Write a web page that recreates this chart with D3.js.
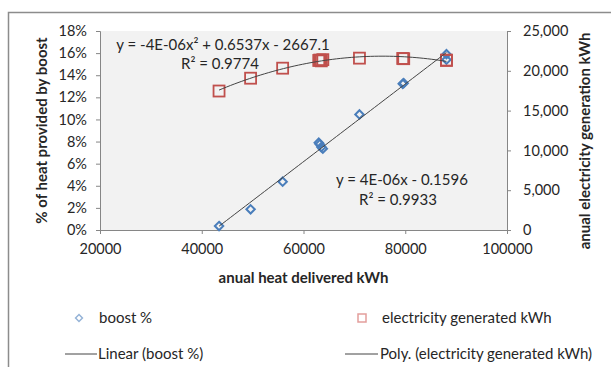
<!DOCTYPE html>
<html lang="en">
<head>
<meta charset="utf-8">
<title>Boost share and electricity generation vs annual heat delivered</title>
<script src="https://cdn.jsdelivr.net/npm/d3@7"></script>
<style>
  body { margin: 0; background: #fff; font-family: Lato, "Open Sans", sans-serif; }
  svg text { fill: #262626; }
  .axis path, .axis line { stroke: #868686; }
  .axis text { font-size: 14.5px; fill: #262626; font-family: Lato, sans-serif; }
  .title { font-size: 15px; font-weight: bold; }
  .eq { font-size: 15px; }
  .leg { font-size: 15px; }
</style>
</head>
<body>
<svg id="chart" width="611" height="367"></svg>
<script>
// values
const heatDelivered = [43400, 49600, 55900, 63000, 63200, 63500, 63800, 71000, 79500, 79700, 88100, 88100];
const boostShare    = [0.0036, 0.0187, 0.0437, 0.079, 0.0775, 0.075, 0.0735, 0.1045, 0.1322, 0.1328, 0.159, 0.154];
const elecGenerated = [17460, 19070, 20330, 21300, 21350, 21250, 21400, 21590, 21550, 21520, 21350, 21300];

const xTicks     = [20000, 40000, 60000, 80000, 100000];
const boostTicks = [0, 0.02, 0.04, 0.06, 0.08, 0.10, 0.12, 0.14, 0.16, 0.18];
const elecTicks  = [0, 5000, 10000, 15000, 20000, 25000];

const linEq  = ["y = 4E-06x - 0.1596", "R² = 0.9933"];
const polyEq = ["y = -4E-06x² + 0.6537x - 2667.1", "R² = 0.9774"];

const svg = d3.select("#chart");
const pLeft = 100, pRight = 507, pTop = 31, pBottom = 230;

const x  = d3.scaleLinear().domain([20000, 100000]).range([pLeft, pRight]);
const yL = d3.scaleLinear().domain([0, 0.18]).range([pBottom, pTop]);
const yR = d3.scaleLinear().domain([0, 25000]).range([pBottom, pTop]);

// outer chart frame (only top and left edges visible)
svg.append("path")
  .attr("d", `M8.5,367 V12.5 H611`)
  .attr("fill", "none").attr("stroke", "#8c8c8c").attr("stroke-width", 1.5);

// plot area
svg.append("rect")
  .attr("x", pLeft).attr("y", pTop)
  .attr("width", pRight - pLeft).attr("height", pBottom - pTop)
  .attr("fill", "#f2f2f2");

// axes
svg.append("g").attr("class", "axis")
  .attr("transform", `translate(0,${pBottom})`)
  .call(d3.axisBottom(x).tickValues(xTicks).tickFormat(d3.format("d")).tickSizeOuter(0).tickSize(4).tickPadding(10));

svg.append("g").attr("class", "axis")
  .attr("transform", `translate(${pLeft},0)`)
  .call(d3.axisLeft(yL).tickValues(boostTicks).tickFormat(d3.format(".0%")).tickSizeOuter(0).tickSize(4).tickPadding(9));

svg.append("g").attr("class", "axis")
  .attr("transform", `translate(${pRight},0)`)
  .call(d3.axisRight(yR).tickValues(elecTicks).tickFormat(d3.format(",")).tickSizeOuter(0).tickSize(4).tickPadding(12));

// axis titles
svg.append("text").attr("class", "title")
  .attr("x", (pLeft + pRight) / 2).attr("y", 283)
  .attr("text-anchor", "middle")
  .text("anual heat delivered kWh");

svg.append("text").attr("class", "title")
  .attr("transform", `translate(47,${(pTop + pBottom) / 2}) rotate(-90)`)
  .attr("text-anchor", "middle")
  .text("% of heat provided by boost");

svg.append("text").attr("class", "title")
  .attr("transform", `translate(590,141) rotate(-90)`)
  .attr("text-anchor", "middle")
  .text("anual electricity generation kWh");

// least squares fits
function linearFit(xs, ys) {
  const mx = d3.mean(xs), my = d3.mean(ys);
  let sxy = 0, sxx = 0;
  xs.forEach((v, i) => { sxy += (v - mx) * (ys[i] - my); sxx += (v - mx) * (v - mx); });
  const b = sxy / sxx;
  return v => my + b * (v - mx);
}

function quadFit(xs, ys) {
  const m = d3.mean(xs), s = 10000;
  const t = xs.map(v => (v - m) / s);
  const S = k => d3.sum(t, v => Math.pow(v, k));
  const T = k => d3.sum(t, (v, i) => Math.pow(v, k) * ys[i]);
  const A = [[S(0), S(1), S(2)], [S(1), S(2), S(3)], [S(2), S(3), S(4)]];
  const B = [T(0), T(1), T(2)];
  // gaussian elimination
  for (let i = 0; i < 3; i++) {
    for (let j = i + 1; j < 3; j++) {
      const f = A[j][i] / A[i][i];
      for (let k = i; k < 3; k++) A[j][k] -= f * A[i][k];
      B[j] -= f * B[i];
    }
  }
  const c = [0, 0, 0];
  for (let i = 2; i >= 0; i--) {
    let r = B[i];
    for (let k = i + 1; k < 3; k++) r -= A[i][k] * c[k];
    c[i] = r / A[i][i];
  }
  return v => { const u = (v - m) / s; return c[0] + c[1] * u + c[2] * u * u; };
}

const xMin = d3.min(heatDelivered), xMax = d3.max(heatDelivered);
const samples = d3.range(0, 61).map(i => xMin + (xMax - xMin) * i / 60);

const linF = linearFit(heatDelivered, boostShare);
const quadF = quadFit(heatDelivered, elecGenerated);

const pts = heatDelivered.map((h, i) => ({ h, b: boostShare[i], e: elecGenerated[i] }));

// boost markers (diamonds)
const diamond = d3.symbol().type(d3.symbolDiamond2).size(45);
svg.append("g").selectAll("path").data(pts).join("path")
  .attr("d", diamond)
  .attr("transform", d => `translate(${x(d.h)},${yL(d.b)})`)
  .attr("fill", "none").attr("stroke", "#4a7ebb").attr("stroke-width", 2);

// electricity markers (squares)
const sq = 11;
svg.append("g").selectAll("rect").data(pts).join("rect")
  .attr("x", d => x(d.h) - sq / 2).attr("y", d => yR(d.e) - sq / 2)
  .attr("width", sq).attr("height", sq)
  .attr("fill", "none").attr("stroke", "#c0504d").attr("stroke-width", 1.8);

// trendlines
svg.append("path")
  .attr("d", d3.line().x(v => x(v)).y(v => yL(linF(v)))(samples))
  .attr("fill", "none").attr("stroke", "#444").attr("stroke-width", 1);

svg.append("path")
  .attr("d", d3.line().x(v => x(v)).y(v => yR(quadF(v)))(samples))
  .attr("fill", "none").attr("stroke", "#444").attr("stroke-width", 1);

// trendline equations
svg.append("text").attr("class", "eq").attr("x", 223).attr("y", 50)
  .attr("text-anchor", "middle").text(polyEq[0]);
svg.append("text").attr("class", "eq").attr("x", 220).attr("y", 69)
  .attr("text-anchor", "middle").text(polyEq[1]);
svg.append("text").attr("class", "eq").attr("x", 402).attr("y", 185)
  .attr("text-anchor", "middle").text(linEq[0]);
svg.append("text").attr("class", "eq").attr("x", 398).attr("y", 205)
  .attr("text-anchor", "middle").text(linEq[1]);

// legend
const leg = svg.append("g");
leg.append("path").attr("d", d3.symbol().type(d3.symbolDiamond2).size(30))
  .attr("transform", "translate(79,318)")
  .attr("fill", "none").attr("stroke", "#95b3d7").attr("stroke-width", 1.5);
leg.append("text").attr("class", "leg").attr("x", 99).attr("y", 323).text("boost %");

leg.append("rect").attr("x", 358).attr("y", 314).attr("width", 8).attr("height", 8)
  .attr("fill", "none").attr("stroke", "#e39e9c").attr("stroke-width", 1.5);
leg.append("text").attr("class", "leg").attr("x", 382).attr("y", 323).text("electricity generated kWh");

leg.append("line").attr("x1", 65).attr("x2", 97).attr("y1", 354).attr("y2", 354)
  .attr("stroke", "#444").attr("stroke-width", 1);
leg.append("text").attr("class", "leg").attr("x", 98).attr("y", 359).text("Linear (boost %)");

leg.append("line").attr("x1", 345).attr("x2", 378).attr("y1", 354).attr("y2", 354)
  .attr("stroke", "#444").attr("stroke-width", 1);
leg.append("text").attr("class", "leg").attr("x", 380).attr("y", 359).text("Poly. (electricity generated kWh)");
</script>
</body>
</html>
